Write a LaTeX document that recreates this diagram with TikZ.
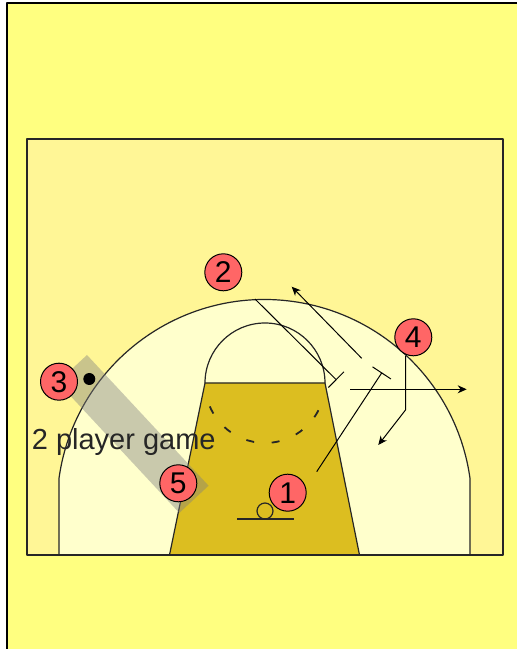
\documentclass[tikz,border=0pt]{standalone}
\usepackage{fontspec}
\setmainfont{Liberation Sans}
\usetikzlibrary{arrows.meta}
\definecolor{paper}{RGB}{255,255,128}
\definecolor{courtfill}{RGB}{255,246,150}
\definecolor{arcfill}{RGB}{255,255,204}
\definecolor{lanefill}{RGB}{220,190,32}
\definecolor{playerred}{RGB}{255,102,102}

\begin{document}
\begin{tikzpicture}[
    x=1pt, y=1pt,
    line join=round,
    courtline/.style={draw=black!85, line width=1.2pt},
    player/.style={circle, draw, line width=1pt, fill=playerred, minimum size=37pt, inner sep=0pt, font=\fontsize{30}{30}\selectfont},
    ball/.style={circle, fill=black, minimum size=12pt, inner sep=0pt},
    note/.style={anchor=base west, inner sep=0pt, text=black!85, font=\fontsize{29}{29}\selectfont},
    move/.style={line width=1pt, -{Stealth[length=9pt,width=8pt]}},
    screen/.style={line width=1pt, -{Bar[width=22pt]}},
    zone/.style={fill=gray, fill opacity=0.42}
]
\useasboundingbox (0,0) rectangle (517,649);
\clip (0,0) rectangle (517,649);
\draw[fill=paper, line width=1.6pt] (6.7,-10) rectangle (530,645.7);
\fill[courtfill] (27,94) rectangle (503,510);
\filldraw[courtline, fill=arcfill] (59,94) -- (59,170.7) arc[start angle=172.05, end angle=7.95, radius=207.5] -- (470,94);
\filldraw[courtline, fill=lanefill] (169.5,94) -- (205,266) -- (325,266) -- (359.5,94);
\draw[courtline, line width=1.6pt] (27,94) rectangle (503,510);
\draw[courtline] (205,266) arc[start angle=180, end angle=0, radius=60];
\draw[courtline, line width=1.8pt, dash pattern=on 8pt off 17.6pt] (209.8,242.6) arc[start angle=203, end angle=339, radius=60];
\draw[courtline] (237,130) -- (294,130);
\draw[courtline] (265,138) circle[radius=8];

\fill[zone] (87,294) -- (208.6,163.3) -- (179.3,136.1) -- (57.7,266.8) -- cycle;

\coordinate (p2start) at (255,350);
\coordinate (p2end) at (336.5,269);
\coordinate (p1start) at (316.7,177.3);
\coordinate (p1end) at (382,276.5);
\coordinate (cutstart) at (361.7,290.7);
\coordinate (cutend) at (291.7,362.3);
\coordinate (passstart) at (350,259.7);
\coordinate (passend) at (466.7,259.7);
\coordinate (p4start) at (405.5,293);
\coordinate (p4bend) at (405.5,239);
\coordinate (p4end) at (378.3,204);

\draw[screen] (p2start) -- (p2end);
\draw[screen] (p1start) -- (p1end);
\draw[move] (cutstart) -- (cutend);
\draw[move] (passstart) -- (passend);
\draw[move] (p4start) -- (p4bend) -- (p4end);

\node[player] (p1) at (287.7,156.3) {1};
\node[player] (p2) at (223.3,376.7) {2};
\node[player] (p3) at (59,267.3) {3};
\node[player] (p4) at (413.3,311.7) {4};
\node[player] (p5) at (178.3,165.7) {5};
\node[ball] (ball) at (89.3,270) {};
\node[note] (game) at (31.7,199) {2 player game};
\end{tikzpicture}
\end{document}
